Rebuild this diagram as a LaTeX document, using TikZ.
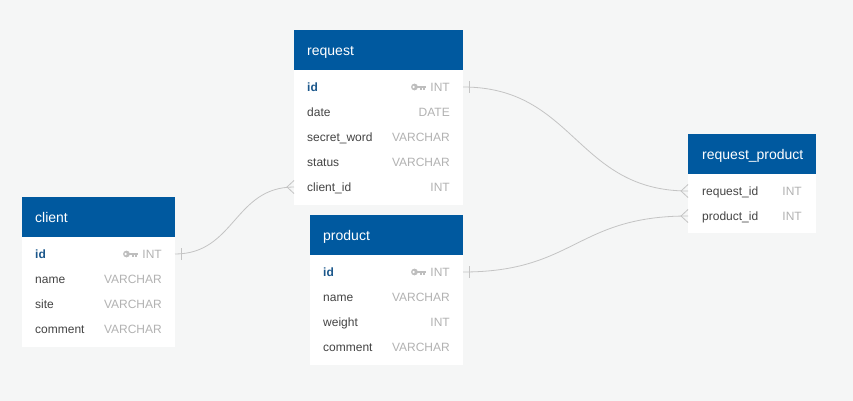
\documentclass[tikz,border=0pt]{standalone}
\usepackage{fontspec}
\usetikzlibrary{calc}
\setmainfont{Liberation Sans}
\definecolor{bg}{RGB}{245,246,246}
\definecolor{hdrblue}{RGB}{0,89,159}
\definecolor{fldgray}{RGB}{68,68,68}
\definecolor{pkblue}{RGB}{28,88,140}
\definecolor{typgray}{RGB}{178,178,178}
\definecolor{keygray}{RGB}{190,190,190}
\definecolor{relgray}{RGB}{196,196,196}
\tikzset{
  hdr/.style={fill=hdrblue, draw=none, inner sep=0pt, outer sep=0pt, minimum height=40pt, anchor=north west},
  bodybox/.style={fill=white, draw=none, inner sep=0pt, outer sep=0pt, anchor=north west},
  hlabel/.style={text=white, font=\fontsize{14}{16}\selectfont, anchor=west, inner sep=0pt, text height=10.5pt, text depth=0pt},
  fld/.style={text=fldgray, font=\fontsize{12}{14}\selectfont, anchor=west, inner sep=0pt, text height=8.6pt, text depth=0pt},
  pk/.style={fld, text=pkblue, font=\fontsize{12}{14}\selectfont\bfseries},
  typ/.style={text=typgray, font=\fontsize{12}{14}\selectfont, anchor=east, inner sep=0pt, text height=8.6pt, text depth=0pt},
  rel/.style={draw=relgray, line width=0.8pt},
  keyicon/.pic={
    \fill[keygray] (-11.8,0) circle (3.4pt);
    \fill[white] (-12.6,0) circle (1.3pt);
    \fill[keygray] (-9.5,-1.2) rectangle (0,1.2);
    \fill[keygray] (-3.2,1.2) rectangle (-1.2,3.2);
    \fill[keygray] (-6.4,1.2) rectangle (-4.6,2.8);
  },
}
\begin{document}
\begin{tikzpicture}[x=1pt,y=-1pt]
\fill[bg] (0,0) rectangle (853,401);
\useasboundingbox (0,0) rectangle (853,401);

% ---------- request ----------
\node[hdr, minimum width=169pt] (reqh) at (294,30) {};
\node[bodybox, minimum width=169pt, minimum height=135pt] (reqb) at (294,70) {};
\node[hlabel] (reqt) at (307,50) {request};
\node[pk]  (reqid)  at (307,87)  {id};
\node[typ] (reqidt) at (450,87)  {INT};
\pic at ([xshift=-4pt]reqidt.west) {keyicon};
\node[fld] (reqdate) at (307,112) {date};
\node[typ] (reqdatet) at (450,112) {DATE};
\node[fld] (reqsw) at (307,137) {secret\_word};
\node[typ] (reqswt) at (450,137) {VARCHAR};
\node[fld] (reqst) at (307,162) {status};
\node[typ] (reqstt) at (450,162) {VARCHAR};
\node[fld] (reqcid) at (307,187) {client\_id};
\node[typ] (reqcidt) at (450,187) {INT};
\coordinate (reqidR) at (463,87);
\coordinate (reqcidL) at (294,187);

% ---------- client ----------
\node[hdr, minimum width=153pt] (clh) at (22,197) {};
\node[bodybox, minimum width=153pt, minimum height=110pt] (clb) at (22,237) {};
\node[hlabel] (clt) at (35,217) {client};
\node[pk]  (clid)  at (35,254) {id};
\node[typ] (clidt) at (162,254) {INT};
\pic at ([xshift=-4pt]clidt.west) {keyicon};
\node[fld] (clname) at (35,279) {name};
\node[typ] (clnamet) at (162,279) {VARCHAR};
\node[fld] (clsite) at (35,304) {site};
\node[typ] (clsitet) at (162,304) {VARCHAR};
\node[fld] (clcom) at (35,329) {comment};
\node[typ] (clcomt) at (162,329) {VARCHAR};
\coordinate (clidR) at (175,254);

% ---------- product ----------
\node[hdr, minimum width=153pt] (prh) at (310,215) {};
\node[bodybox, minimum width=153pt, minimum height=110pt] (prb) at (310,255) {};
\node[hlabel] (prt) at (323,235) {product};
\node[pk]  (prid)  at (323,272) {id};
\node[typ] (pridt) at (450,272) {INT};
\pic at ([xshift=-4pt]pridt.west) {keyicon};
\node[fld] (prname) at (323,297) {name};
\node[typ] (prnamet) at (450,297) {VARCHAR};
\node[fld] (prw) at (323,322) {weight};
\node[typ] (prwt) at (450,322) {INT};
\node[fld] (prcom) at (323,347) {comment};
\node[typ] (prcomt) at (450,347) {VARCHAR};
\coordinate (pridR) at (463,272);

% ---------- request_product ----------
\node[hdr, minimum width=128pt] (rph) at (688,134) {};
\node[bodybox, minimum width=128pt, minimum height=59pt] (rpb) at (688,174) {};
\node[hlabel] (rpt) at (702,154) {request\_product};
\node[fld] (rprid) at (702,191) {request\_id};
\node[typ] (rpridt) at (802,191) {INT};
\node[fld] (rppid) at (702,216) {product\_id};
\node[typ] (rppidt) at (802,216) {INT};
\coordinate (rpridL) at (688,191);
\coordinate (rppidL) at (688,216);

% ---------- relations ----------
% request.id -> request_product.request_id
\draw[rel] (reqidR) .. controls ($(reqidR)+(112,0)$) and ($(rpridL)+(-112,0)$) .. (rpridL);
\draw[rel] ($(reqidR)+(6,-6)$) -- ($(reqidR)+(6,6)$);
\draw[rel] ($(rpridL)+(0,-6.5)$) -- ($(rpridL)+(-7,0)$) -- ($(rpridL)+(0,6.5)$);
% client.id -> request.client_id
\draw[rel] (clidR) .. controls ($(clidR)+(60,0)$) and ($(reqcidL)+(-60,0)$) .. (reqcidL);
\draw[rel] ($(clidR)+(6,-6)$) -- ($(clidR)+(6,6)$);
\draw[rel] ($(reqcidL)+(0,-6.5)$) -- ($(reqcidL)+(-7,0)$) -- ($(reqcidL)+(0,6.5)$);
% product.id -> request_product.product_id
\draw[rel] (pridR) .. controls ($(pridR)+(112,0)$) and ($(rppidL)+(-112,0)$) .. (rppidL);
\draw[rel] ($(pridR)+(6,-6)$) -- ($(pridR)+(6,6)$);
\draw[rel] ($(rppidL)+(0,-6.5)$) -- ($(rppidL)+(-7,0)$) -- ($(rppidL)+(0,6.5)$);
\end{tikzpicture}
\end{document}
